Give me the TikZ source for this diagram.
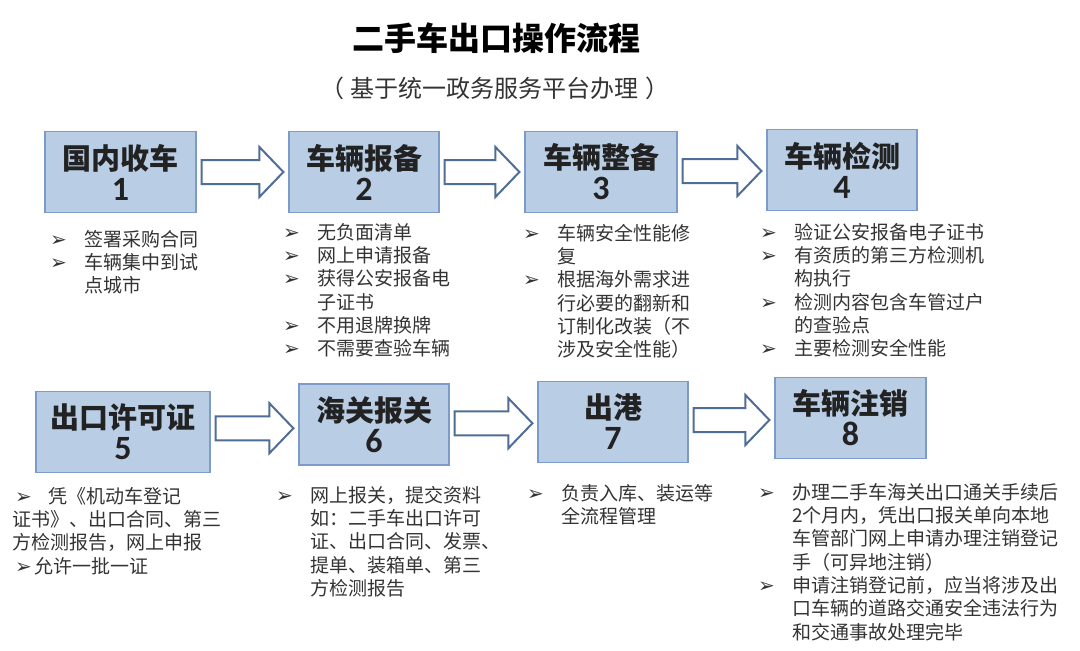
\documentclass[tikz,border=0pt]{standalone}
\usepackage{fontspec}
\setmainfont{Noto Sans CJK SC}
\newfontfamily\digitfont{Carlito}
\newfontfamily\bulfont{DejaVu Sans}
\usepackage{tikz}
\usetikzlibrary{calc}

\definecolor{boxfill}{HTML}{B9CDE5}
\definecolor{boxline}{HTML}{7D9BC8}
\definecolor{arrline}{HTML}{4F6D96}
\definecolor{titlegray}{HTML}{222222}
\definecolor{notegray}{HTML}{333333}

\newcommand{\boxfont}{\fontsize{29pt}{31pt}\selectfont\bfseries}
\newcommand{\notefont}{\fontsize{19pt}{23.3pt}\selectfont}
\newcommand{\bulsign}{{\bulfont\fontsize{20pt}{20pt}\selectfont\char"27A2}}
\newcommand{\bl}[1]{\makebox[34pt][l]{\bulsign}#1}
\newcommand{\cl}[1]{\makebox[34pt][l]{}#1}
\newcommand{\flowarrow}[2]{%
  \draw[flowarr] let \p1=(#1.east), \p2=(#2.west), \n1={(\y1+\y2)/2} in
    (\x1+5pt,\n1+12pt) -- (\x2-29pt,\n1+12pt) -- (\x2-29pt,\n1+25pt) -- (\x2-5pt,\n1)
    -- (\x2-29pt,\n1-25pt) -- (\x2-29pt,\n1-12pt) -- (\x1+5pt,\n1-12pt) -- cycle;}

\tikzset{
  stagebox/.style={draw=boxline, fill=boxfill, line width=1.2pt, minimum height=81pt,
    align=center, inner sep=0pt, text=titlegray, font=\boxfont},
  flowarr/.style={draw=arrline, fill=white, line width=2pt, line join=miter},
  notes/.style={anchor=north west, align=left, inner sep=0pt, text=notegray, font=\notefont}
}

\begin{document}
\begin{tikzpicture}[x=1pt,y=-1pt]
    \useasboundingbox (0,0) rectangle (1080,651);

    \node[font=\fontsize{32pt}{36pt}\selectfont\bfseries, text=black] (title) at (496,38) {二手车出口操作流程};
    \node[font=\fontsize{24pt}{28pt}\selectfont, text=notegray] (subtitle) at (495,88) {（\hspace{7pt}基于统一政务服务平台办理\hspace{7pt}）};

    % stages
    \foreach \idx/\cx/\cy/\w/\t in {1/120.5/172/151/国内收车, 2/364/172/150/车辆报备,
        3/601/172/152/车辆整备, 4/842/170/150/车辆检测, 5/123/432/174/出口许可证,
        6/374/424.5/150/海关报关, 7/613/422/150/出港, 8/850.5/418/151/车辆注销} {
        \node[stagebox, minimum width=\w pt] (b\idx) at (\cx,\cy) {\t\\{\digitfont\fontsize{34pt}{31pt}\selectfont\idx}};
    }
    \foreach \a/\b in {b1/b2, b2/b3, b3/b4, b5/b6, b6/b7, b7/b8} {
        \flowarrow{\a}{\b}
    }

    % notes
    \node[notes] (n1) at (50,230) {\bl{签署采购合同}\\\bl{车辆集中到试}\\\cl{点城市}};
    \node[notes] (n2) at (283,223) {\bl{无负面清单}\\\bl{网上申请报备}\\\bl{获得公安报备电}\\\cl{子证书}\\\bl{不用退牌换牌}\\\bl{不需要查验车辆}};
    \node[notes] (n3) at (523,224) {\bl{车辆安全性能修}\\\cl{复}\\\bl{根据海外需求进}\\\cl{行必要的翻新和}\\\cl{订制化改装（不}\\\cl{涉及安全性能）}};
    \node[notes] (n4) at (760,223) {\bl{验证公安报备电子证书}\\\bl{有资质的第三方检测机}\\\cl{构执行}\\\bl{检测内容包含车管过户}\\\cl{的查验点}\\\bl{主要检测安全性能}};
    \node[notes] (n5) at (12,487) {\makebox[36pt][l]{\hspace{3pt}\bulsign}凭《机动车登记\\证书》、出口合同、第三\\方检测报告，网上申报\\\makebox[22pt][l]{\hspace{3pt}\bulsign}允许一批一证};
    \node[notes] (n6) at (276,486) {\bl{网上报关，提交资料}\\\cl{如：二手车出口许可}\\\cl{证、出口合同、发票、}\\\cl{提单、装箱单、第三}\\\cl{方检测报告}};
    \node[notes] (n7) at (527,484) {\bl{负责入库、装运等}\\\cl{全流程管理}};
    \node[notes] (n8) at (758,483) {\bl{办理二手车海关出口通关手续后}\\\cl{2个月内，凭出口报关单向本地}\\\cl{车管部门网上申请办理注销登记}\\\cl{手（可异地注销）}\\\bl{申请注销登记前，应当将涉及出}\\\cl{口车辆的道路交通安全违法行为}\\\cl{和交通事故处理完毕}};
\end{tikzpicture}
\end{document}
